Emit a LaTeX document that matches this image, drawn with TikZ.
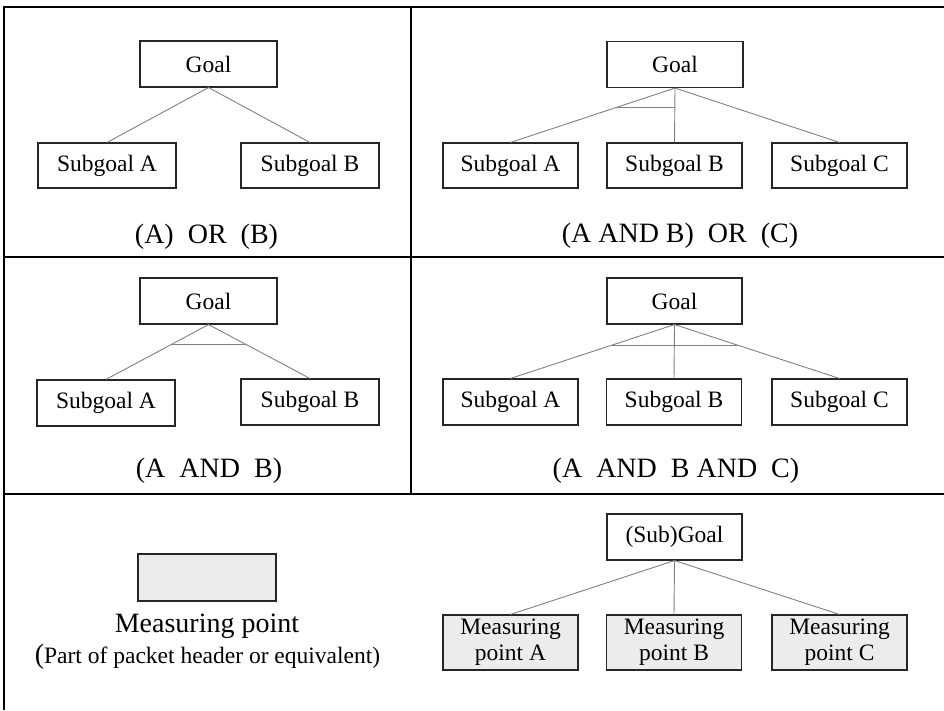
\documentclass[tikz,border=0pt]{standalone}
\usepackage{fontspec}
\setmainfont{Liberation Serif}
\usetikzlibrary{calc}
\definecolor{boxline}{HTML}{262626}
\definecolor{linkgray}{HTML}{808080}
\definecolor{mpgray}{HTML}{ECECEC}

\begin{document}
\begin{tikzpicture}[x=1pt,y=-1pt,
  box/.style={draw=boxline, line width=1.1pt, fill=white, inner sep=0pt,
    font=\fontsize{23.5}{26}\selectfont, minimum height=46pt, minimum width=137pt},
  mbox/.style={box, fill=mpgray, align=center, minimum height=55pt, minimum width=135pt},
  link/.style={draw=linkgray, line width=0.9pt},
  frameline/.style={draw=black, line width=1.3pt},
  caption/.style={anchor=base, inner sep=0pt, font=\fontsize{28}{30}\selectfont}]

\useasboundingbox (0,0) rectangle (944,710);

% panel frame
\draw[frameline] (944,7) -- (4,7) -- (4,710);
\draw[frameline] (411,7) -- (411,494);
\draw[frameline] (4,257) -- (944,257);
\draw[frameline] (4,494) -- (944,494);

% (A) OR (B)
\node[box] (g1) at (208.5,64) {Goal};
\node[box, minimum width=138pt, minimum height=45pt] (g1a) at (107,165.5) {Subgoal A};
\node[box, minimum width=138pt, minimum height=45pt] (g1b) at (310,165.5) {Subgoal B};
\draw[link] (g1a.north) -- (g1.south) -- (g1b.north);
\node[caption] (c1) at (206.5,243) {(A)~ OR~ (B)};

% (A AND B) OR (C)
\node[box, minimum width=136pt] (g2) at (675,64.5) {Goal};
\node[box, minimum width=135pt, minimum height=45pt] (g2a) at (510.5,165.5) {Subgoal A};
\node[box, minimum width=135pt, minimum height=45pt] (g2b) at (674.5,165.5) {Subgoal B};
\node[box, minimum width=135pt, minimum height=45pt] (g2c) at (839.5,165.5) {Subgoal C};
\draw[link] (g2a.north) -- (g2.south) -- (g2c.north);
\draw[link] (g2.south) -- (g2b.north);
\coordinate (b2l) at ($(g2.south)!0.364!(g2a.north)$);
\draw[link] (b2l) -- (b2l -| g2b.north);
\node[caption] (c2) at (680,242) {(A AND B)~ OR~ (C)};

% (A AND B)
\node[box] (g3) at (208.5,301) {Goal};
\node[box, minimum width=138pt] (g3a) at (106,403) {Subgoal A};
\node[box, minimum width=138pt] (g3b) at (310,402) {Subgoal B};
\draw[link] (g3a.north) -- (g3.south) -- (g3b.north);
\coordinate (b3l) at ($(g3.south)!0.37!(g3a.north)$);
\coordinate (b3r) at ($(g3.south)!0.38!(g3b.north)$);
\draw[link] (b3l) -- (b3l -| b3r);
\node[caption] (c3) at (209,477) {(A~ AND~ B)};

% (A AND B AND C)
\node[box, minimum width=135pt] (g4) at (674.5,301) {Goal};
\node[box, minimum width=135pt] (g4a) at (510.5,402) {Subgoal A};
\node[box, minimum width=135pt] (g4b) at (674,402) {Subgoal B};
\node[box, minimum width=135pt] (g4c) at (839.5,402) {Subgoal C};
\draw[link] (g4a.north) -- (g4.south) -- (g4c.north);
\draw[link] (g4.south) -- (g4b.north);
\coordinate (b4l) at ($(g4.south)!0.38!(g4a.north)$);
\coordinate (b4r) at ($(g4.south)!0.38!(g4c.north)$);
\draw[link] (b4l) -- (b4r);
\node[caption] (c4) at (676,477) {(A~ AND~ B AND~ C)};

% legend: measuring point
\node[box, fill=mpgray, minimum width=138pt, minimum height=47pt] (mp) at (207,577.5) {};
\node[caption] (mpl) at (207,632) {Measuring point};
\node[caption, font=\fontsize{23.5}{26}\selectfont] (mpn) at (207.5,663)
  {{\fontsize{28}{30}\selectfont(}Part of packet header or equivalent)};

% (Sub)Goal with measuring points
\node[box, minimum width=135pt] (sg) at (674.5,537) {(Sub)Goal};
\node[mbox] (ma) at (510.5,642.5) {Measuring\\point A};
\node[mbox] (mb) at (674,642.5) {Measuring\\point B};
\node[mbox] (mc) at (839.5,642.5) {Measuring\\point C};
\draw[link] (ma.north) -- (sg.south) -- (mc.north);
\draw[link] (sg.south) -- (mb.north);

\end{tikzpicture}
\end{document}
